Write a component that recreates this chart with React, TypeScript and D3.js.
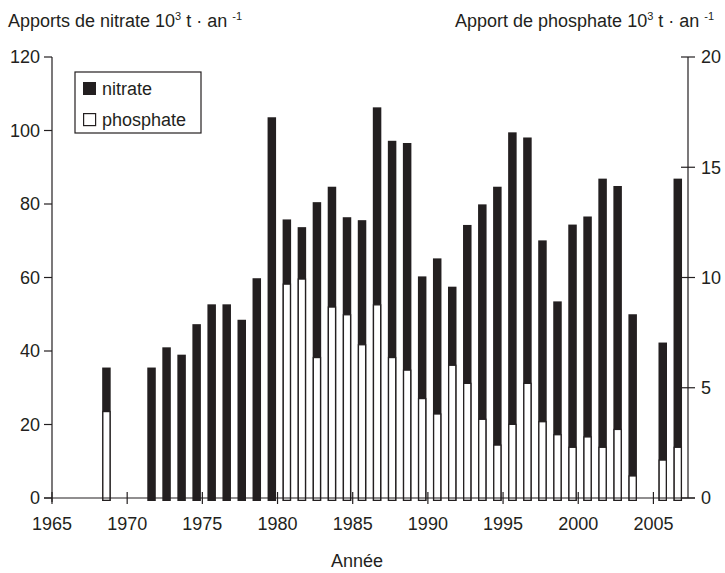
import React from "react";
import * as d3 from "d3";

const years = [1968, 1971, 1972, 1973, 1974, 1975, 1976, 1977, 1978, 1979,
  1980, 1981, 1982, 1983, 1984, 1985, 1986, 1987, 1988, 1989, 1990, 1991,
  1992, 1993, 1994, 1995, 1996, 1997, 1998, 1999, 2000, 2001, 2002, 2003,
  2005, 2006];

const nitrate = [35.5, 35.5, 41.0, 39.0, 47.3, 52.7, 52.7, 48.5, 59.8, 103.6,
  75.8, 73.7, 80.5, 84.7, 76.4, 75.6, 106.3, 97.2, 96.6, 60.3, 65.2, 57.5,
  74.3, 79.9, 84.7, 99.5, 98.1, 70.1, 53.5, 74.4, 76.6, 86.9, 84.9, 50.0,
  42.3, 86.9];

const phosphate: (number | null)[] = [3.92, null, null, null, null, null, null, null, null, null,
  9.70, 9.93, 6.37, 8.66, 8.31, 6.95, 8.76, 6.37, 5.80, 4.51, 3.81, 6.02,
  5.20, 3.57, 2.40, 3.34, 5.2, 3.46, 2.87, 2.3, 2.77, 2.3, 3.11, 1.0,
  1.72, 2.3];

const xTicks = [1965, 1970, 1975, 1980, 1985, 1990, 1995, 2000, 2005];
const leftTicks = [0, 20, 40, 60, 80, 100, 120];
const rightTicks = [0, 5, 10, 15, 20];

const INK = "#231f20";
const FONT = "'Liberation Sans', Arial, Helvetica, sans-serif";

export default function App() {
  const x = d3.scaleLinear().domain([1965, 2007.3]).range([52, 688]);
  const yL = d3.scaleLinear().domain([0, 120]).range([498, 57]);
  const yR = d3.scaleLinear().domain([0, 20]).range([498, 57]);
  const bw = 8.5;
  const below = 3;
  const off = 0.62;

  return (
    <svg width={725} height={573} style={{ position: "absolute", left: 0, top: 0 }}
      fontFamily={FONT} fontSize={18} fill={INK}>
      <rect x={0} y={0} width={725} height={573} fill="#fff" />

      {/* bars */}
      {years.map((yr, i) => {
        const cx = x(yr + off);
        const ph = phosphate[i];
        return (
          <g key={yr}>
            <rect x={cx - bw / 2} y={yL(nitrate[i])} width={bw}
              height={yL(0) - yL(nitrate[i]) + below} fill={INK} />
            {ph !== null && (
              <rect x={cx - bw / 2 + 0.65} y={yR(ph)} width={bw - 1.3}
                height={yR(0) - yR(ph) + below - 0.65} fill="#fff" stroke={INK} strokeWidth={1.3} />
            )}
          </g>
        );
      })}

      {/* left axis */}
      <line x1={52} x2={52} y1={yL(120)} y2={yL(0) + 4} stroke={INK} strokeWidth={1.2} />
      {leftTicks.map(t => (
        <g key={"l" + t}>
          <line x1={44} x2={52} y1={yL(t)} y2={yL(t)} stroke={INK} strokeWidth={1.2} />
          <text x={40} y={yL(t)} dy="0.35em" textAnchor="end">{t}</text>
        </g>
      ))}

      {/* right axis */}
      <line x1={688} x2={688} y1={yR(20)} y2={yR(0)} stroke={INK} strokeWidth={1.2} />
      {rightTicks.map(t => (
        <g key={"r" + t}>
          <line x1={681} x2={695} y1={yR(t)} y2={yR(t)} stroke={INK} strokeWidth={1.2} />
          <text x={701} y={yR(t)} dy="0.35em" textAnchor="start">{t}</text>
        </g>
      ))}

      {/* bottom axis */}
      <line x1={44} x2={695} y1={yL(0)} y2={yL(0)} stroke={INK} strokeWidth={1.2} />
      {xTicks.map(t => (
        <g key={"x" + t}>
          <line x1={x(t)} x2={x(t)} y1={yL(0) - 6} y2={yL(0) + 6} stroke={INK} strokeWidth={1.2} />
          <text x={x(t)} y={530} textAnchor="middle">{t}</text>
        </g>
      ))}
      <text x={357} y={567} textAnchor="middle">Année</text>

      {/* titles */}
      <text x={8} y={27}>
        Apports de nitrate 10<tspan fontSize={11} dy={-7}>3</tspan>
        <tspan dy={7}> t · an </tspan>
        <tspan fontSize={11} dy={-7}>-1</tspan>
      </text>
      <text x={455} y={27}>
        Apport de phosphate 10<tspan fontSize={11} dy={-7}>3</tspan>
        <tspan dy={7}> t · an </tspan>
        <tspan fontSize={11} dy={-7}>-1</tspan>
      </text>

      {/* legend */}
      <rect x={75} y={72} width={126} height={61} fill="#fff" stroke={INK} strokeWidth={1.2} />
      <rect x={83} y={82} width={13} height={13} fill={INK} />
      <text x={102} y={95}>nitrate</text>
      <rect x={83.6} y={113.6} width={12} height={12} fill="#fff" stroke={INK} strokeWidth={1.2} />
      <text x={102} y={126}>phosphate</text>
    </svg>
  );
}
